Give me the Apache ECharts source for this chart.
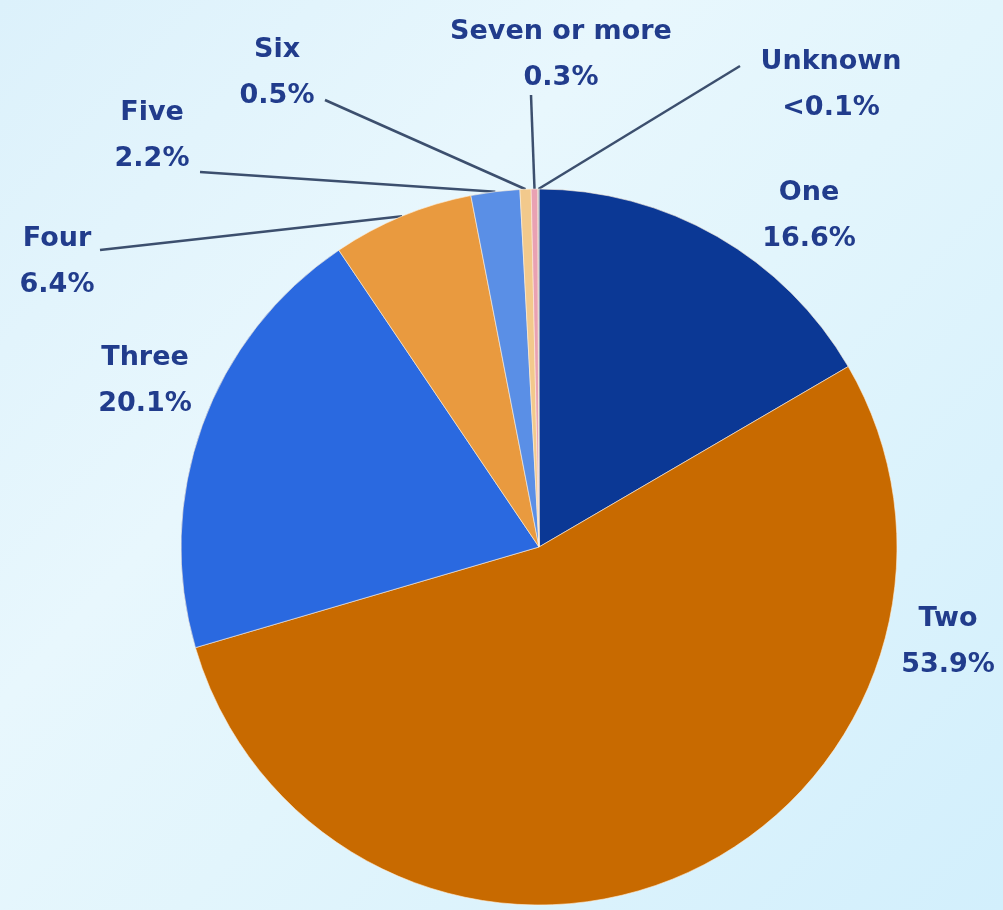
<!DOCTYPE html>
<html>
<head>
<meta charset="utf-8">
<style>
  html, body { margin: 0; padding: 0; }
  #chart { width: 1003px; height: 910px; }
</style>
<script src="https://cdn.jsdelivr.net/npm/echarts@6/dist/echarts.min.js"></script>
</head>
<body>
<div id="chart"></div>
<script>
// Share of households by number of members (%)
const categories = ['One', 'Two', 'Three', 'Four', 'Five', 'Six', 'Seven or more', 'Unknown'];
const shares = [16.6, 53.9, 20.1, 6.4, 2.2, 0.5, 0.3, 0.05];
const sliceColors = ['#0b3895', '#c86a00', '#2a69e0', '#e99a3f', '#5a8fe6', '#f2c98c', '#e9a1b3', '#9aa7ba'];
// Slices whose label sits beside the pie with no leader line
const plainLabels = ['One', 'Two', 'Three'];

// Label placement: text centre and the point where the leader line meets the text
const labelPlace = {
  'One':           { x: 809, y: 216 },
  'Two':           { x: 948, y: 642 },
  'Three':         { x: 145, y: 381 },
  'Four':          { x: 57,  y: 262, anchor: [100, 250] },
  'Five':          { x: 152, y: 136, anchor: [200, 172] },
  'Six':           { x: 277, y: 73,  anchor: [325, 100] },
  'Seven or more': { x: 561, y: 55,  anchor: [531, 95] },
  'Unknown':       { x: 831, y: 85,  anchor: [740, 66] }
};

function pctText(v) {
  return v < 0.1 ? '<0.1%' : v.toFixed(1) + '%';
}

const chart = echarts.init(document.getElementById('chart'), null, { renderer: 'canvas' });

const seriesData = categories.map((name, i) => ({
  name: name,
  value: shares[i],
  itemStyle: { color: sliceColors[i] },
  labelLine: { show: plainLabels.indexOf(name) < 0 }
}));

chart.setOption({
  animation: false,
  backgroundColor: {
    type: 'linear', x: 0, y: 0, x2: 1, y2: 1,
    colorStops: [
      { offset: 0, color: '#dcf1fb' },
      { offset: 0.35, color: '#e8f7fd' },
      { offset: 0.55, color: '#e2f5fc' },
      { offset: 1, color: '#d2effc' }
    ]
  },
  series: [{
    type: 'pie',
    center: [539, 547],
    radius: ['0%', 358],
    startAngle: 90,
    clockwise: true,
    avoidLabelOverlap: false,
    data: seriesData,
    itemStyle: { borderColor: 'rgba(255,240,220,0.6)', borderWidth: 1 },
    label: {
      show: true,
      position: 'outside',
      formatter: p => p.name + '\n' + pctText(p.value),
      fontFamily: 'DejaVu Sans, Verdana, sans-serif',
      fontWeight: 'bold',
      fontSize: 27,
      lineHeight: 46,
      color: '#213c8c',
      align: 'center'
    },
    labelLine: {
      show: true,
      lineStyle: { color: '#3c4f6e', width: 2.5 }
    },
    labelLayout: function (params) {
      const name = categories[params.dataIndex];
      const place = labelPlace[name];
      const out = { x: place.x, y: place.y, align: 'center', verticalAlign: 'middle' };
      if (place.anchor && params.labelLinePoints) {
        const start = params.labelLinePoints[0];
        out.labelLinePoints = [start, start, place.anchor];
      }
      return out;
    }
  }]
});
</script>
</body>
</html>
